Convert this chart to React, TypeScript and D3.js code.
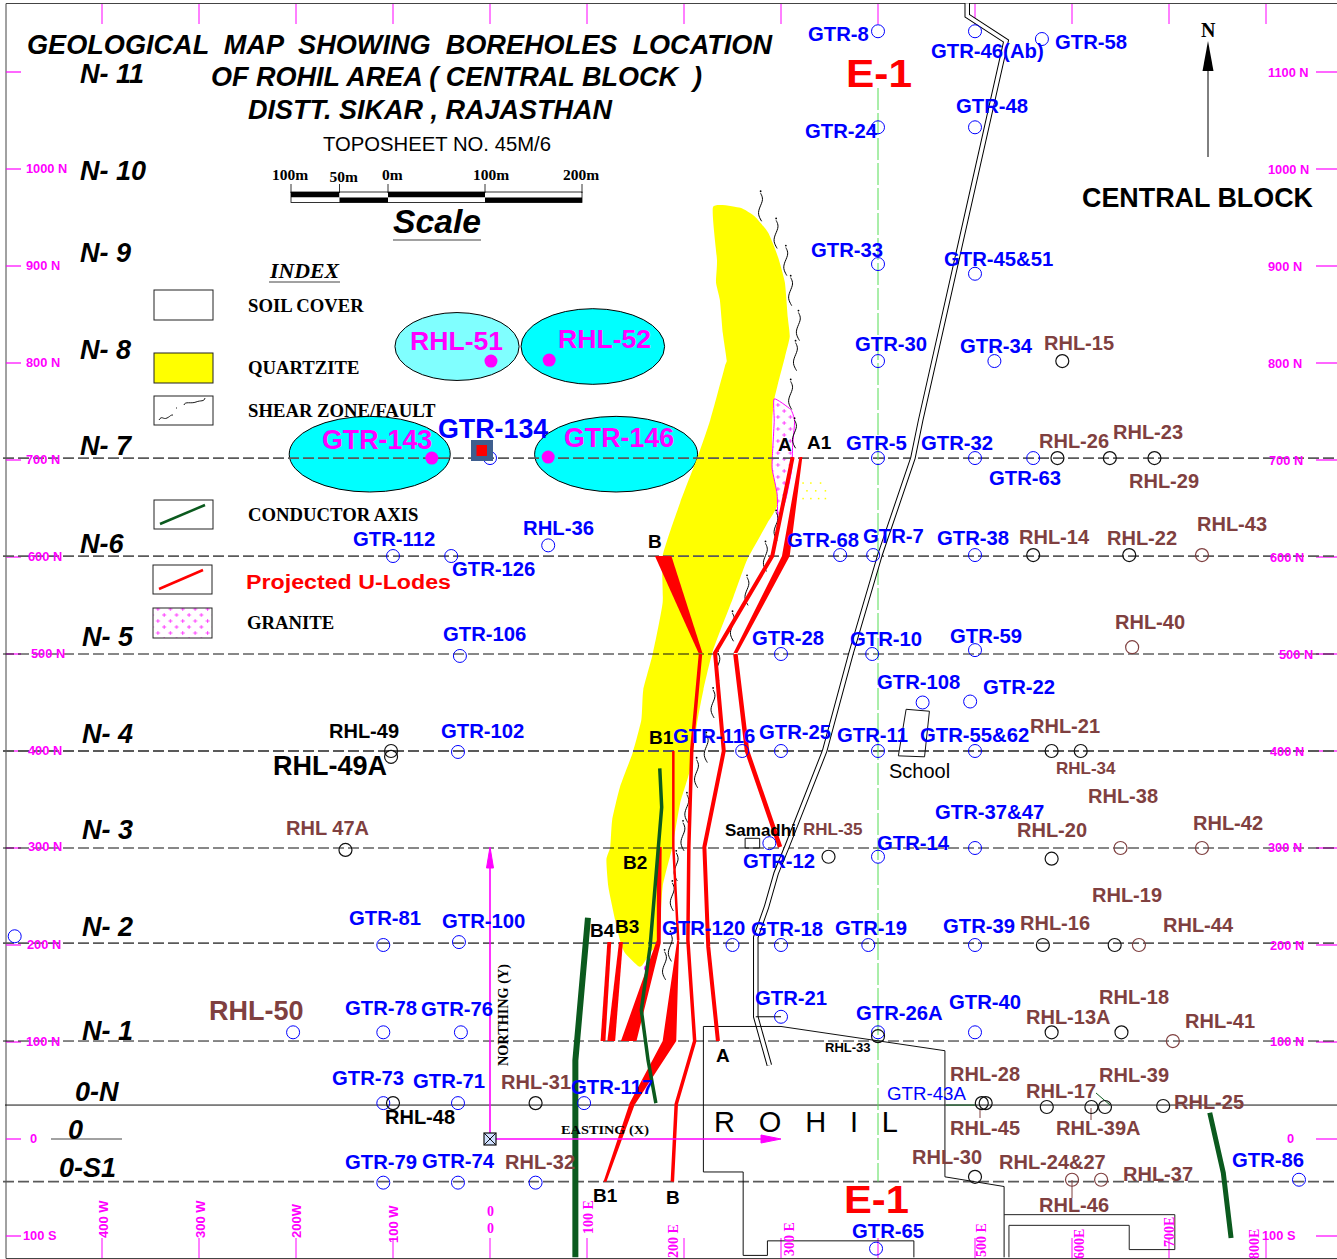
import React from "react";
import * as d3 from "d3";

// ---------- DATA: map coordinates in metres (easting, northing) ----------
type P = [number, number];
const gtrHoles: [string, number, number][] = [
  ["GTR-8",400,1142],["GTR-46(Ab)",500,1142],["GTR-58",569,1134],["GTR-24",400,1043],["GTR-48",500,1043],
  ["GTR-33",400,902],["GTR-45&51",500,892],["GTR-30",400,802],["GTR-34",520,802],["GTR-5",400,702],
  ["GTR-32",500,702],["GTR-63",560,702],["GTR-134",0,702],["GTR-112",-100,601],["GTR-126",-40,601],
  ["RHL-36",60,612],["GTR-68",361,602],["GTR-7",395,602],["GTR-38",500,602],["GTR-106",-31,498],
  ["GTR-28",300,500],["GTR-10",394,500],["GTR-59",500,504],["GTR-108",446,450],["GTR-22",495,451],
  ["GTR-102",-33,399],["GTR-116",260,400],["GTR-25",300,400],["GTR-11",400,400],["GTR-55&62",500,400],
  ["GTR-12",288,305],["GTR-14",400,291],["GTR-37&47",500,300],["GTR-81",-110,200],["GTR-100",-32,203],
  ["GTR-120",250,200],["GTR-18",300,200],["GTR-19",390,200],["GTR-39",500,200],["",-490,209],
  ["GTR-21",300,126],["GTR-26A",400,110],["GTR-40",500,110],["RHL-50",-203,110],["GTR-78",-110,110],
  ["GTR-76",-30,110],["GTR-73",-110,37],["GTR-71",-33,37],["GTR-117",97,37],["GTR-79",-110,-45],
  ["GTR-74",-33,-45],["RHL-32",47,-45],["GTR-65",398,-113],["GTR-86",834,-42],
];
const blackHoles: P[] = [
  [590,802],[585,702],[639,702],[685,702],[560,602],[659,602],[579,400],[609,400],[-102,400],[-102,394],
  [-149,298],[349,291],[579,289],[570,200],[644,200],[-100,37],[47,37],[400,106],[579,110],[651,110],
  [507,37],[511,37],[574,33],[620,33],[634,33],[694,34],[500,-39],
];
const brownHoles: P[] = [[734,602],[662,507],[650,300],[734,300],[669,200],[704,101],[600,-42],[630,-42]];
const targetDots: P[] = [[1,802],[61,803],[-60,702],[60,703]];
const targetEllipses: { e: number; n: number; rx: number; ry: number; light: boolean }[] = [
  { e: -34, n: 817, rx: 64, ry: 35, light: true },
  { e: 106, n: 817, rx: 74, ry: 39, light: false },
  { e: -124, n: 706, rx: 83, ry: 39, light: false },
  { e: 130, n: 706, rx: 84, ry: 39, light: false },
];
const gridNorthings = [702, 601, 500, 400, 300, 202, 101, -44];
const heavyGrid = [702, 601, 400, 202, -44];
const tickNorthings = [1100, 1000, 900, 800, 700, 600, 500, 400, 300, 200, 100, 0, -100];
const tickEastings = [-400, -300, -200, -100, 0, 100, 200, 300, 400, 500, 600, 700, 800];
const scaleMarks = [-100, -50, 0, 100, 200];
const scaleLabels = ["100m", "50m", "0m", "100m", "200m"];

const quartzite: P[] = [
  [230,961],[258,960],[273,951],[287,934],[297,909],[304,883],[307,847],[309,827],[304,806],[297,779],
  [293,762],[291,741],[291,702],[297,656],[286,635],[265,597],[251,559],[230,504],[220,463],[214,432],
  [206,380],[196,346],[188,301],[178,260],[174,205],[165,192],[157,179],[153,178],[139,192],[134,205],
  [129,226],[122,260],[120,288],[124,301],[126,329],[134,363],[147,398],[156,432],[158,463],[168,501],
  [178,553],[178,601],[196,656],[214,703],[227,741],[242,796],[244,803],[240,831],[237,865],[233,883],[234,906],
];
const granite: P[] = [[293,763],[310,752],[314,740],[312,715],[311,690],[305,660],[297,637],[296,665],[291,690],[291,702],[293,740]];
const graniteRemnant: P = [162,176];
const road: P[] = [[492,1171],[492,1158],[532,1132],[444,741],[436,702],[402,602],[372,500],[345,400],[306,301],[295,274],[285,239],[274,208],[274,126],[288,76]];
const roadSpur: P[] = [[274,126],[300,126]];

const lodeLines: { pts: P[]; w: number }[] = [
  { pts: [[312,703],[291,601],[232,501],[241,400],[221,301],[225,198],[235,101]], w: 4 },
  { pts: [[253,500],[265,400],[299,301]], w: 4.5 },
  { pts: [[217,500],[208,401],[205,301],[204,205],[211,101],[192,36],[188,-44]], w: 3.5 },
  { pts: [[189,400],[189,301],[194,205]], w: 2.5 },
];
const lodeShapes: P[][] = [
  [[319,703],[322,703],[309,601],[255,501],[251,501],[301,601]],
  [[170,601],[187,601],[219,501],[215,501]],
  [[193,205],[195,205],[192,101],[149,35],[120,-44],[117,-44],[144,37],[178,101],[184,143]],
  [[172,301],[177,301],[176,202],[151,101],[135,101],[162,177],[172,205]],
  [[133,203],[137,203],[129,101],[121,101]],
  [[121,203],[125,203],[119,101],[114,101]],
];
const conductors: { pts: P[]; w: number }[] = [
  { pts: [[175,382],[177,342],[165,198],[156,133],[163,81],[171,37]], w: 3.5 },
  { pts: [[101,228],[88,81],[88,71],[88,-122]], w: 6 },
  { pts: [[742,27],[756,-35],[764,-102]], w: 5 },
];
const shearTops: P[] = [
  [279,975],[295,947],[305,919],[310,888],[318,852],[315,821],[310,781],[314,741],[295,646],[284,614],
  [265,579],[250,542],[235,501],[230,463],[223,417],[213,391],[203,355],[199,326],[192,295],[188,264],[186,212],[180,193],
];
const rohilOutline: P[] = [
  [437,-122],[437,-105],[286,-105],[286,-120],[261,-120],[261,-34],[220,-34],[220,116],[300,116],[469,91],[469,-39],[530,-49],[530,-122],
];
const rohilBlockA: P[] = [[530,-78],[706,-78],[706,-114],[659,-114],[659,-89],[535,-89],[535,-122]];
const schoolBox: P[] = [[429,443],[453,441],[448,394],[421,395]];
const samadhiBox: P[] = [[263,310],[278,310],[278,300],[263,300]];
const yellowSpecks: P[] = [[322,677],[330,677],[340,677],[326,669],[335,669],[345,669],[322,661],[330,661],[338,661],[345,661]];

// ---------- Labels ----------
const blueLabels = ["GTR-8","GTR-46(Ab)","GTR-58","GTR-48","GTR-24","GTR-33","GTR-45&51","GTR-30","GTR-34","GTR-5","GTR-32","GTR-63","RHL-36","GTR-112","GTR-126","GTR-68","GTR-7","GTR-38","GTR-106","GTR-28","GTR-10","GTR-59","GTR-108","GTR-22","GTR-102","GTR-116","GTR-25","GTR-11","GTR-55&62","GTR-37&47","GTR-14","GTR-12","GTR-81","GTR-100","GTR-120","GTR-18","GTR-19","GTR-39","GTR-21","GTR-26A","GTR-40","GTR-78","GTR-76","GTR-73","GTR-71","GTR-117","GTR-79","GTR-74","GTR-65","GTR-86"];
const brownLabels = ["RHL-15","RHL-26","RHL-23","RHL-29","RHL-14","RHL-22","RHL-43","RHL-40","RHL-21","RHL-38","RHL-42","RHL-20","RHL 47A","RHL-19","RHL-16","RHL-44","RHL-18","RHL-13A","RHL-41","RHL-28","RHL-39","RHL-17","RHL-25","RHL-45","RHL-39A","RHL-30","RHL-24&27","RHL-37","RHL-46","RHL-31","RHL-32"];
const lineLabels = ["N- 11","N- 10","N- 9","N- 8","N- 7","N-6","N- 5","N- 4","N- 3","N- 2","N- 1","0-N","0","0-S1"];
const sectionLabels = ["A","A1","B","B1","B2","B3","B4","A","B1","B"];
const indexItems = ["SOIL COVER","QUARTZITE","SHEAR ZONE/FAULT","CONDUCTOR AXIS","GRANITE"];

// ---------- LAYOUT (pixels, separate from the data) ----------
const W = 1337, H = 1259;
const x = d3.scaleLinear().domain([-400, 800]).range([102, 1266]);
const y = d3.scaleLinear().domain([-100, 1100]).range([1236, 72]);
const barX = d3.scaleLinear().domain([-100, 200]).range([291, 582]);
const barLabelDx = [-19, -10, -6, -12, -19];
const blueAt: Record<string, P> = {
  "GTR-8":[808,41],"GTR-46(Ab)":[931,58],"GTR-58":[1055,49],"GTR-48":[956,113],"GTR-24":[805,138],"GTR-33":[811,257],
  "GTR-45&51":[944,266],"GTR-30":[855,351],"GTR-34":[960,353],"GTR-5":[846,450],"GTR-32":[921,450],"GTR-63":[989,485],
  "RHL-36":[523,535],"GTR-112":[353,546],"GTR-126":[452,576],"GTR-68":[787,547],"GTR-7":[863,543],"GTR-38":[937,545],
  "GTR-106":[443,641],"GTR-28":[752,645],"GTR-10":[850,646],"GTR-59":[950,643],"GTR-108":[877,689],"GTR-22":[983,694],
  "GTR-102":[441,738],"GTR-116":[673,743],"GTR-25":[759,739],"GTR-11":[837,742],"GTR-55&62":[920,742],"GTR-37&47":[935,819],
  "GTR-14":[877,850],"GTR-12":[743,868],"GTR-81":[349,925],"GTR-100":[442,928],"GTR-120":[662,935],"GTR-18":[751,936],
  "GTR-19":[835,935],"GTR-39":[943,933],"GTR-21":[755,1005],"GTR-26A":[856,1020],"GTR-40":[949,1009],"GTR-78":[345,1015],
  "GTR-76":[421,1016],"GTR-73":[332,1085],"GTR-71":[413,1088],"GTR-117":[571,1094],"GTR-79":[345,1169],"GTR-74":[422,1168],
  "GTR-65":[852,1238],"GTR-86":[1232,1167],
};
const brownAt: Record<string, P> = {
  "RHL-15":[1044,350],"RHL-26":[1039,448],"RHL-23":[1113,439],"RHL-29":[1129,488],"RHL-14":[1019,544],"RHL-22":[1107,545],
  "RHL-43":[1197,531],"RHL-40":[1115,629],"RHL-21":[1030,733],"RHL-38":[1088,803],"RHL-42":[1193,830],"RHL-20":[1017,837],
  "RHL 47A":[286,835],"RHL-19":[1092,902],"RHL-16":[1020,930],"RHL-44":[1163,932],"RHL-18":[1099,1004],"RHL-13A":[1026,1024],
  "RHL-41":[1185,1028],"RHL-28":[950,1081],"RHL-39":[1099,1082],"RHL-17":[1026,1098],"RHL-25":[1174,1109],"RHL-45":[950,1135],
  "RHL-39A":[1056,1135],"RHL-30":[912,1164],"RHL-24&27":[999,1169],"RHL-37":[1123,1181],"RHL-46":[1039,1212],"RHL-31":[501,1089],"RHL-32":[505,1169],
};
const lineAt: P[] = [[80,83],[80,180],[80,262],[80,359],[80,455],[80,553],[82,646],[82,743],[82,839],[82,936],[82,1040],[75,1101],[68,1139],[59,1177]];
const sectionAt: P[] = [[778,451],[807,449],[648,548],[649,744],[623,869],[615,933],[590,937],[716,1062],[593,1202],[666,1204]];
const leftAxis: [string, number, number][] = [["1000 N",26,173],["900 N",26,270],["800 N",26,367],["700 N",26,464],["600 N",28,561],["500 N",31,658],["400 N",28,755],["300 N",28,851],["200 N",27,949],["100 N",26,1046],["0",30,1143],["100 S",23,1240]];
const rightAxis: [string, number, number][] = [["1100 N",1268,77],["1000 N",1268,174],["900 N",1268,271],["800 N",1268,368],["700 N",1269,465],["600 N",1270,562],["500 N",1279,659],["400 N",1270,756],["300 N",1268,852],["200 N",1270,950],["100 N",1270,1046],["0",1287,1143],["100 S",1262,1240]];
const bottomSans: [string, number, number][] = [["400 W",108,1220],["300 W",205,1220],["200W",301,1220],["100 W",398,1225]];
const bottomSerif: [string, number, number][] = [["100 E",593,1218],["200 E",678,1242],["300 E",794,1240],["500 E",986,1241],["600E",1084,1243],["700E",1174,1231],["800E",1259,1243]];
const indexY = [312, 374, 417, 521, 629];
const legendBoxes: [number, number, number, number][] = [[154,290,59,30],[154,353,59,30],[154,396,59,29],[154,500,59,29],[153,565,59,29],[153,608,59,30]];

const SANS = "'Liberation Sans', Arial, sans-serif";
const SERIF = "'Liberation Serif', 'Times New Roman', serif";
const BLUE = "#0000ff", BROWN = "#7f4040", PINK = "#ff00ff", RED = "#ff0000", DGREEN = "#0b5a1e";
const wiggle: P[] = [[0,0],[3,6],[-1,14],[-3,21],[1,28]];

const proj = (p: P): P => [x(p[0]), y(p[1])];
const poly = d3.line<P>().x(d => x(d[0])).y(d => y(d[1]));
const smoothPoly = d3.line<P>().x(d => x(d[0])).y(d => y(d[1])).curve(d3.curveCardinalClosed.tension(0.5));
const closed = d3.line<P>().x(d => x(d[0])).y(d => y(d[1])).curve(d3.curveLinearClosed);
const wiggleLine = d3.line<P>().curve(d3.curveBasis);

function T(props: any) {
  const { f = SANS, b = true, i = false, s = 20, c = "#000", children, ...rest } = props;
  return (
    <text fontFamily={f} fontWeight={b ? 700 : 400} fontStyle={i ? "italic" : "normal"} fontSize={s} fill={c} style={{ whiteSpace: "pre" }} {...rest}>
      {children}
    </text>
  );
}

export default function App() {
  return (
    <svg width={W} height={H} viewBox={`0 0 ${W} ${H}`} style={{ position: "absolute", left: 0, top: 0, display: "block", background: "#fff" }}>
      <defs>
        <pattern id="granite" width="12.4" height="12" patternUnits="userSpaceOnUse">
          <g stroke={PINK} strokeWidth="0.7">
            <path d="M3 1v4M1 3h4" />
            <path d="M9.2 7v4M7.2 9h4" />
          </g>
        </pattern>
      </defs>

      {/* frame and ticks */}
      <path d={`M6 3.5H${W}M6 3.5V1258.5M6 1258.5H${W}`} fill="none" stroke="#444" strokeWidth="1" />
      {tickEastings.map(e => (
        <g key={e} stroke={PINK} strokeWidth="1">
          <line x1={x(e)} x2={x(e)} y1={4} y2={24} />
          <line x1={x(e)} x2={x(e)} y1={1258} y2={1238} />
        </g>
      ))}
      {tickNorthings.map(n => (
        <g key={n} stroke={PINK} strokeWidth="1.2">
          <line x1={6} x2={21} y1={y(n)} y2={y(n)} />
          <line x1={1316} x2={1337} y1={y(n)} y2={y(n)} />
        </g>
      ))}

      {/* target ellipses */}
      {targetEllipses.map((d, i) => (
        <ellipse key={i} cx={x(d.e)} cy={y(d.n)} rx={x(d.rx) - x(0)} ry={y(0) - y(d.ry)} fill={d.light ? "#80ffff" : "#00ffff"} stroke="#000" strokeWidth="1" />
      ))}

      {/* geology */}
      <path d={smoothPoly(quartzite) ?? ""} fill="#ffff00" />
      <path d={smoothPoly(granite) ?? ""} fill="#fff" />
      <path d={smoothPoly(granite) ?? ""} fill="url(#granite)" stroke={PINK} strokeWidth="1" />
      <circle cx={x(graniteRemnant[0])} cy={y(graniteRemnant[1])} r="3" fill={PINK} />
      {yellowSpecks.map((p, i) => <rect key={i} x={x(p[0])} y={y(p[1])} width="1.5" height="1.5" fill="#ffff00" />)}

      {/* grid */}
      {gridNorthings.map(n => {
        const heavy = heavyGrid.includes(n);
        return <line key={n} x1={3} x2={W} y1={y(n)} y2={y(n)} stroke={heavy ? "#5a5a5a" : "#111"} strokeWidth={heavy ? 1.8 : 1} strokeDasharray="11 4" />;
      })}
      <line x1={5} x2={W} y1={y(35)} y2={y(35)} stroke="#111" strokeWidth="1" />
      <line x1={51} x2={122} y1={y(0)} y2={y(0)} stroke="#444" strokeWidth="1" />
      <line x1={x(400)} x2={x(400)} y1={88} y2={y(-44)} stroke="#55dd55" strokeWidth="1" strokeDasharray="22 3" />

      {/* road, boundaries */}
      <path d={poly(road) ?? ""} fill="none" stroke="#000" strokeWidth="5.5" strokeLinejoin="miter" />
      <path d={poly(road) ?? ""} fill="none" stroke="#fff" strokeWidth="3.5" strokeLinejoin="miter" />
      <path d={poly(roadSpur) ?? ""} fill="none" stroke="#000" strokeWidth="1" />
      <path d={poly(rohilOutline) ?? ""} fill="none" stroke="#111" strokeWidth="1" />
      <path d={poly(rohilBlockA) ?? ""} fill="none" stroke="#222" strokeWidth="1" />
      <path d={closed(schoolBox) ?? ""} fill="none" stroke="#111" strokeWidth="1" />
      <path d={closed(samadhiBox) ?? ""} fill="none" stroke="#111" strokeWidth="1" />

      {/* shear zone */}
      {shearTops.map((p, i) => {
        const [px, py] = proj(p);
        return (
          <g key={i} transform={`translate(${px},${py})`}>
            <circle cx={0} cy={-2} r="0.9" fill="#000" />
            <path d={wiggleLine(wiggle) ?? ""} fill="none" stroke="#000" strokeWidth="1" />
          </g>
        );
      })}

      {/* lodes and conductors */}
      {lodeShapes.map((s, i) => <path key={i} d={closed(s) ?? ""} fill={RED} />)}
      {lodeLines.map((l, i) => <path key={i} d={poly(l.pts) ?? ""} fill="none" stroke={RED} strokeWidth={l.w} />)}
      {conductors.map((l, i) => <path key={i} d={poly(l.pts) ?? ""} fill="none" stroke={DGREEN} strokeWidth={l.w} />)}

      {/* pointer ticks */}
      <line x1={946} x2={975} y1={y(35)} y2={y(35)} stroke={DGREEN} strokeWidth="1" />
      <line x1={980} x2={980} y1={1108} y2={1118} stroke={BROWN} strokeWidth="1" />
      <line x1={1091} x2={1091} y1={1108} y2={1120} stroke={BROWN} strokeWidth="1" />
      <line x1={1072} x2={1072} y1={1180} y2={1198} stroke={BROWN} strokeWidth="1" />
      <line x1={1096} x2={1110} y1={1093} y2={1105} stroke={DGREEN} strokeWidth="1" />

      {/* boreholes */}
      {gtrHoles.map((d, i) => <circle key={i} cx={x(d[1])} cy={y(d[2])} r="6.5" fill="none" stroke={BLUE} strokeWidth="1" />)}
      {blackHoles.map((d, i) => <circle key={i} cx={x(d[0])} cy={y(d[1])} r="6.5" fill="none" stroke="#111" strokeWidth="1.2" />)}
      {brownHoles.map((d, i) => <circle key={i} cx={x(d[0])} cy={y(d[1])} r="6.5" fill="none" stroke={BROWN} strokeWidth="1.2" />)}
      {targetDots.map((d, i) => <circle key={i} cx={x(d[0])} cy={y(d[1])} r="6.5" fill={PINK} />)}
      <rect x={471} y={440} width={22} height={21} fill="#3f5f8f" />
      <rect x={476.5} y={445} width={10.5} height={11} fill={RED} />

      {/* origin axes */}
      <g stroke={PINK} fill={PINK}>
        <line x1={x(0)} x2={x(0)} y1={865} y2={y(0)} strokeWidth="1.6" />
        <line x1={x(0)} x2={765} y1={y(0)} y2={y(0)} strokeWidth="1.6" />
        <path d={`M${x(0)} 847L${x(0) + 3.5} 868H${x(0) - 3.5}Z`} />
        <path d={`M781 ${y(0)}L761 ${y(0) - 4}V${y(0) + 4}Z`} />
      </g>
      <rect x={484} y={1133} width={12} height={12} fill="#cfe0ff" stroke="#111" strokeWidth="1.2" />
      <path d="M484 1133L496 1145M496 1133L484 1145" stroke="#111" strokeWidth="1" />

      {/* titles */}
      <T i s={27} x={27} y={54} textLength={745} lengthAdjust="spacingAndGlyphs">GEOLOGICAL  MAP  SHOWING  BOREHOLES  LOCATION</T>
      <T i s={27} x={211} y={86} textLength={491} lengthAdjust="spacingAndGlyphs">OF ROHIL AREA ( CENTRAL BLOCK  )</T>
      <T i s={27} x={248} y={119} textLength={364} lengthAdjust="spacingAndGlyphs">DISTT. SIKAR , RAJASTHAN</T>
      <T b={false} s={20} x={323} y={151} textLength={228} lengthAdjust="spacingAndGlyphs">TOPOSHEET NO. 45M/6</T>
      <T s={27} x={1082} y={207} textLength={231} lengthAdjust="spacingAndGlyphs">CENTRAL BLOCK</T>
      <T c={RED} s={38} x={846} y={87} textLength={66} lengthAdjust="spacingAndGlyphs">E-1</T>
      <T c={RED} s={38} x={844} y={1213} textLength={65} lengthAdjust="spacingAndGlyphs">E-1</T>

      {/* scale bar */}
      {scaleMarks.slice(0, -1).map((m, i) => (
        <g key={m}>
          <rect x={barX(m)} y={192} width={barX(scaleMarks[i + 1]) - barX(m)} height={5.5} fill={i % 2 === 0 ? "#000" : "#fff"} />
          <rect x={barX(m)} y={197.5} width={barX(scaleMarks[i + 1]) - barX(m)} height={5} fill={i % 2 === 0 ? "#fff" : "#000"} />
        </g>
      ))}
      <rect x={barX(-100)} y={192} width={barX(200) - barX(-100)} height={10.5} fill="none" stroke="#000" strokeWidth="0.8" />
      {scaleMarks.map((m, i) => (
        <g key={m}>
          <line x1={barX(m)} x2={barX(m)} y1={184} y2={193} stroke="#000" strokeWidth="0.8" />
          <T f={SERIF} s={15.5} x={barX(m) + barLabelDx[i]} y={i === 1 ? 182 : 180}>{scaleLabels[i]}</T>
        </g>
      ))}
      <T i s={34} x={393} y={233} textLength={88} lengthAdjust="spacingAndGlyphs">Scale</T>
      <line x1={393} x2={481} y1={240} y2={240} stroke="#444" strokeWidth="1" />

      {/* north arrow */}
      <T f={SERIF} s={20} x={1201} y={37}>N</T>
      <path d="M1208 41L1213.5 71H1202.5Z" fill="#000" />
      <line x1={1208} x2={1208} y1={70} y2={157} stroke="#000" strokeWidth="1" />

      {/* index */}
      <T f={SERIF} i s={21} x={270} y={278} textLength={69} lengthAdjust="spacingAndGlyphs">INDEX</T>
      <line x1={269} x2={340} y1={282} y2={282} stroke="#444" strokeWidth="1" />
      {indexItems.map((t, i) => <T key={t} f={SERIF} s={18.7} x={i === 4 ? 247 : 248} y={indexY[i]}>{t}</T>)}
      {legendBoxes.map((b, i) => (
        <rect key={i} x={b[0]} y={b[1]} width={b[2]} height={b[3]} fill={i === 1 ? "#ffff00" : i === 5 ? "url(#granite)" : "#fff"} stroke="#222" strokeWidth="1" />
      ))}
      <path d="M159 420c3-5 4 0 8-2s3-3 6-3M176 408l1 0M184 405c1-4 7-1 12-3s8 0 9-4" fill="none" stroke="#000" strokeWidth="0.9" />
      <line x1={160} x2={205} y1={524} y2={505} stroke={DGREEN} strokeWidth="2.5" />
      <line x1={159} x2={203} y1={589} y2={570} stroke={RED} strokeWidth="2.5" />
      <T c={RED} s={20} x={246} y={589} textLength={205} lengthAdjust="spacingAndGlyphs">Projected U-Lodes</T>

      {/* target labels */}
      <T c={PINK} s={26.6} x={410} y={350}>RHL-51</T>
      <T c={PINK} s={26.6} x={558} y={348}>RHL-52</T>
      <T c={PINK} s={26.8} x={322} y={449}>GTR-143</T>
      <T c={PINK} s={26.8} x={564} y={447}>GTR-146</T>
      <T c={BLUE} s={26.8} x={438} y={438}>GTR-134</T>

      {/* borehole labels */}
      {blueLabels.map(t => <T key={t} c={BLUE} s={20.3} x={blueAt[t][0]} y={blueAt[t][1]}>{t}</T>)}
      {brownLabels.map(t => <T key={t} c={BROWN} s={20} x={brownAt[t][0]} y={brownAt[t][1]}>{t}</T>)}
      <T c={BROWN} s={17} x={1056} y={774}>RHL-34</T>
      <T c={BROWN} s={17} x={803} y={835}>RHL-35</T>
      <T c={BROWN} s={27} x={209} y={1020}>RHL-50</T>
      <T c={BLUE} b={false} s={18.7} x={887} y={1100}>GTR-43A</T>
      <T s={20} x={329} y={738}>RHL-49</T>
      <T s={27} x={273} y={775}>RHL-49A</T>
      <T s={20} x={385} y={1124}>RHL-48</T>
      <T s={13} x={825} y={1052}>RHL-33</T>
      <T b={false} s={20} x={889} y={778}>School</T>
      <T s={17} x={725} y={836}>Samadhi</T>
      <T b={false} s={29} x={714} y={1132} textLength={184} lengthAdjust="spacing">R  O  H  I  L</T>

      {/* grid and section labels */}
      {lineLabels.map((t, i) => <T key={i} i s={27} x={lineAt[i][0]} y={lineAt[i][1]}>{t}</T>)}
      {sectionLabels.map((t, i) => <T key={i} s={19} x={sectionAt[i][0]} y={sectionAt[i][1]}>{t}</T>)}

      {/* axis labels */}
      <T f={SERIF} s={14} transform="translate(508,1066) rotate(-90)" textLength={102} lengthAdjust="spacingAndGlyphs">NORTHING (Y)</T>
      <T f={SERIF} s={13} x={561} y={1134} textLength={88} lengthAdjust="spacingAndGlyphs">EASTING (X)</T>
      {[...leftAxis, ...rightAxis].map((d, i) => <T key={i} c={PINK} s={12.8} x={d[1]} y={d[2]}>{d[0]}</T>)}
      {bottomSans.map(d => <T key={d[0]} c={PINK} s={13} transform={`translate(${d[1]},${d[2] + 18}) rotate(-90)`}>{d[0]}</T>)}
      {bottomSerif.map(d => <T key={d[0]} f={SERIF} c={PINK} s={14} transform={`translate(${d[1]},${d[2] + 16}) rotate(-90)`}>{d[0]}</T>)}
      <T f={SERIF} c={PINK} s={14} x={487} y={1216}>0</T>
      <T f={SERIF} c={PINK} s={14} x={487} y={1233}>0</T>
    </svg>
  );
}
